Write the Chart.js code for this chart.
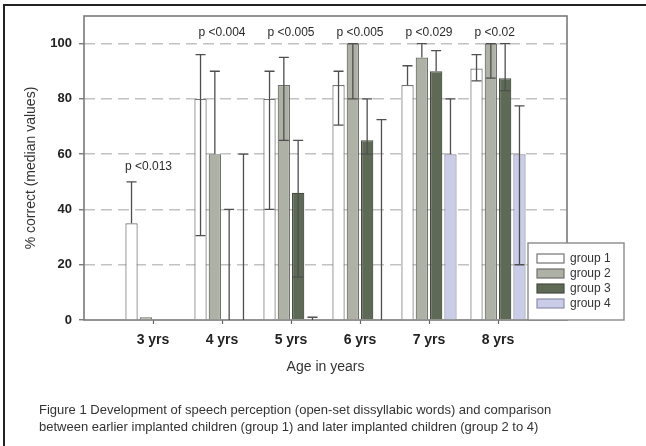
<!DOCTYPE html>
<html>
<head>
<meta charset="utf-8">
<script src="https://cdn.jsdelivr.net/npm/chart.js@4.4.1/dist/chart.umd.min.js"></script>
<style>
  html, body { margin: 0; padding: 0; background: #fff; }
  #wrap { position: relative; width: 646px; height: 446px; overflow: hidden;
          font-family: 'Liberation Sans', Arial, sans-serif; }
  #frame { position: absolute; left: 3px; top: 4px; right: -10px; bottom: -10px;
           border-top: 2px solid #222; border-left: 2px solid #222; }
  canvas { position: absolute; left: 0; top: 0; }
  #caption { position: absolute; left: 39px; top: 402px; font-size: 13px;
             line-height: 16.6px; color: #333; white-space: nowrap; }
</style>
</head>
<body>
<div id="wrap">
  <div id="frame"></div>
  <canvas id="chart" width="646" height="446"></canvas>
  <div id="caption">Figure 1 Development of speech perception (open-set dissyllabic words) and comparison<br>between earlier implanted children (group 1) and later implanted children (group 2 to 4)</div>
</div>
<script>
// Age categories and group names
const ages = ['3 yrs', '4 yrs', '5 yrs', '6 yrs', '7 yrs', '8 yrs'];
const groupNames = ['group 1', 'group 2', 'group 3', 'group 4'];

// Median % correct per group
const group1 = [35, 80, 80, 85, 85, 91];
const group2 = [1, 60, 85, 100, 95, 100];
const group3 = [null, 0, 46, 65, 90, 87.5];
const group4 = [null, 0, 0, 0, 60, 60];

// Upper / lower whisker ends (null = whisker not shown)
const group1High = [50, 96, 90, 90, 92, 96];
const group1Low  = [null, 30.5, 40, 70.5, null, 86.5];
const group2High = [null, 90, 95, 100, 100, 100];
const group2Low  = [null, null, 65, 80, null, 87.5];
const group3High = [null, 40, 65, 80, 97.5, 100];
const group3Low  = [null, null, 15.5, 60, null, 83];
const group4High = [null, 60, 1, 72.5, 80, 77.5];
const group4Low  = [null, null, null, null, null, 20];

// Significance labels per age
const pValues = ['p <0.013', 'p <0.004', 'p <0.005', 'p <0.005', 'p <0.029', 'p <0.02'];

// Y axis ticks
const yTicks = [0, 20, 40, 60, 80, 100];

const FONT = "'Liberation Sans', Arial, sans-serif";
Chart.defaults.font.family = FONT;

// one empty slot on each side of the age categories
const pad = arr => [null, ...arr, null];
const labels = ['', ...ages, ''];

const styles = [
  { bg: '#ffffff', border: '#747474' },
  { bg: '#aeb1a5', border: '#6f716b' },
  { bg: '#5e6a55', border: '#454c40' },
  { bg: '#cacce8', border: '#8d8fa8' }
];
const values = [group1, group2, group3, group4];
const highs = [group1High, group2High, group3High, group4High];
const lows = [group1Low, group2Low, group3Low, group4Low];

const datasets = groupNames.map((name, i) => ({
  label: name,
  data: pad(values[i]),
  errHigh: pad(highs[i]),
  errLow: pad(lows[i]),
  backgroundColor: styles[i].bg,
  borderColor: styles[i].border,
  borderWidth: 1.2,
  categoryPercentage: 0.83,
  barPercentage: 0.86
}));

// frame around the plotting area
const plotBox = {
  id: 'plotBox',
  beforeDatasetsDraw(chart) {
    const { ctx, chartArea: a } = chart;
    ctx.save();
    ctx.strokeStyle = '#7a7a7a';
    ctx.lineWidth = 1.6;
    ctx.strokeRect(a.left, a.top, a.right - a.left, a.bottom - a.top);
    ctx.restore();
  }
};

// whiskers on top of the bars
const errorBars = {
  id: 'errorBars',
  afterDatasetsDraw(chart) {
    const { ctx } = chart;
    const y = chart.scales.y;
    ctx.save();
    ctx.strokeStyle = '#4f4f4f';
    ctx.lineWidth = 1.3;
    chart.data.datasets.forEach((ds, di) => {
      const meta = chart.getDatasetMeta(di);
      ds.data.forEach((v, j) => {
        const hi = ds.errHigh[j];
        if (v === null || hi === null) return;
        const lo = ds.errLow[j];
        const x = meta.data[j].x;
        const cap = 5;
        const yHi = y.getPixelForValue(hi);
        const yBase = y.getPixelForValue(lo !== null ? lo : v);
        ctx.beginPath();
        ctx.moveTo(x, yBase);
        ctx.lineTo(x, yHi);
        ctx.moveTo(x - cap, yHi);
        ctx.lineTo(x + cap, yHi);
        if (lo !== null) {
          ctx.moveTo(x - cap, yBase);
          ctx.lineTo(x + cap, yBase);
        }
        ctx.stroke();
      });
    });
    ctx.restore();
  }
};

// p-value annotations: a common row near the top, or just above
// the whiskers when a group stays low
const pLabels = {
  id: 'pLabels',
  afterDatasetsDraw(chart) {
    const { ctx } = chart;
    const xs = chart.scales.x, ys = chart.scales.y;
    ctx.save();
    ctx.font = '12px ' + FONT;
    ctx.fillStyle = '#2a2a2a';
    ctx.textAlign = 'left';
    ctx.textBaseline = 'middle';
    pValues.forEach((txt, k) => {
      const idx = k + 1;
      let top = 0;
      chart.data.datasets.forEach(ds => {
        const h = ds.errHigh[idx] !== null ? ds.errHigh[idx] : ds.data[idx];
        if (h !== null && h > top) top = h;
      });
      const low = top < 80;
      const val = low ? top + 5.5 : 104;
      const dx = low ? -28 : -23.5;
      ctx.fillText(txt, xs.getPixelForValue(idx) + dx, ys.getPixelForValue(val));
    });
    ctx.restore();
  }
};

// boxed legend in the lower right corner
const boxLegend = {
  id: 'boxLegend',
  afterDraw(chart) {
    const { ctx } = chart;
    const bx = 528, by = 243, bw = 96, bh = 77;
    ctx.save();
    ctx.fillStyle = '#fff';
    ctx.fillRect(bx, by, bw, bh);
    ctx.strokeStyle = '#8a8a8a';
    ctx.lineWidth = 1.4;
    ctx.strokeRect(bx, by, bw, bh);
    ctx.font = '12px ' + FONT;
    ctx.textBaseline = 'middle';
    ctx.textAlign = 'left';
    chart.data.datasets.forEach((ds, i) => {
      const cy = by + 15.5 + i * 15;
      ctx.fillStyle = ds.backgroundColor;
      ctx.fillRect(bx + 9, cy - 4.5, 27, 9);
      ctx.strokeStyle = ds.borderColor;
      ctx.lineWidth = 1.2;
      ctx.strokeRect(bx + 9, cy - 4.5, 27, 9);
      ctx.fillStyle = '#333';
      ctx.fillText(ds.label, bx + 42, cy + 0.5);
    });
    ctx.restore();
  }
};

new Chart(document.getElementById('chart'), {
  type: 'bar',
  data: { labels, datasets },
  options: {
    responsive: false,
    animation: false,
    layout: { padding: { left: 0, top: 16, right: 79, bottom: 0 } },
    plugins: { legend: { display: false }, tooltip: { enabled: false } },
    scales: {
      x: {
        type: 'category',
        offset: false,
        afterFit: s => { s.height = 126; },
        grid: {
          offset: false,
          drawOnChartArea: false,
          drawTicks: true,
          tickLength: 4,
          tickWidth: 1.2,
          tickColor: c => (c.index === 0 || c.index === labels.length - 1) ? 'rgba(0,0,0,0)' : '#666'
        },
        border: { display: false },
        ticks: {
          autoSkip: false, maxRotation: 0, padding: 8,
          color: '#222', font: { size: 14, weight: 'bold' }
        },
        title: {
          display: true, text: 'Age in years', color: '#333',
          font: { size: 14 }, padding: { top: 0, bottom: 70.6 }
        }
      },
      y: {
        min: 0, max: 110,
        afterFit: s => { s.width = 84; },
        afterBuildTicks: s => { s.ticks = yTicks.map(v => ({ value: v })); },
        grid: {
          color: c => (c.tick && c.tick.value === 0) ? 'rgba(0,0,0,0)' : '#c2c2c2',
          lineWidth: 1.5,
          drawTicks: true,
          tickLength: 5,
          tickWidth: 1.2,
          tickColor: '#666'
        },
        border: { display: false, dash: [11, 6] },
        ticks: {
          padding: 7, color: '#222', font: { size: 13, weight: 'bold' }
        },
        title: {
          display: true, text: '% correct (median values)', color: '#333',
          font: { size: 14 }, padding: { top: 22.3, bottom: 0 }
        }
      }
    }
  },
  plugins: [plotBox, errorBars, pLabels, boxLegend]
});
</script>
</body>
</html>
